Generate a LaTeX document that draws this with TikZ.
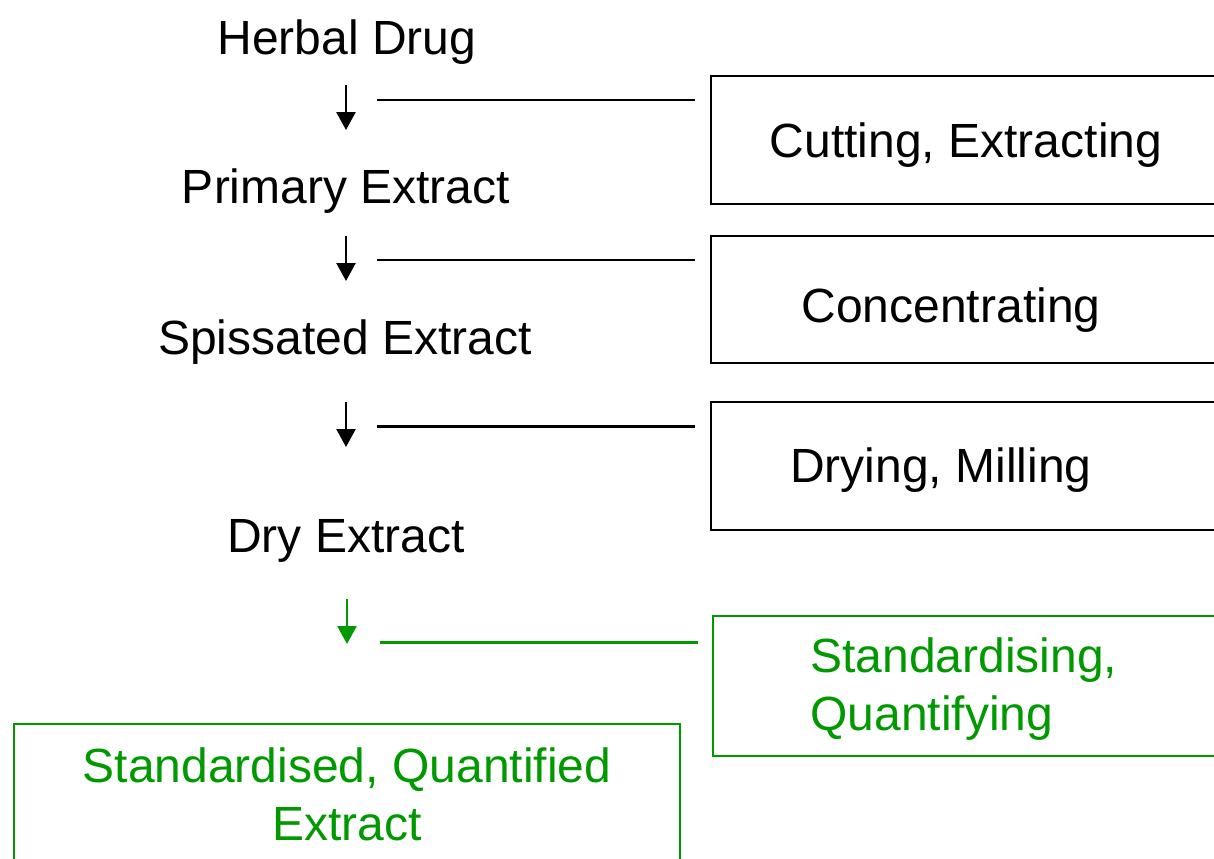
\documentclass[tikz,border=0pt]{standalone}
\usepackage{fontspec}
\setmainfont{Liberation Sans}
\usetikzlibrary{arrows.meta,positioning}
\definecolor{stdgreen}{RGB}{0,153,0}
\begin{document}
\begin{tikzpicture}[x=0.5pt,y=-0.5pt,
  stage/.style={font=\fontsize{24}{29}\selectfont,inner sep=0pt,anchor=base},
  flowarrow/.style={line width=1.2pt,-{Triangle[length=9pt,width=9.5pt]}},
  linkline/.style={line width=1.1pt},
  procbox/.style={line width=1.1pt}]
\useasboundingbox (0,0) rectangle (1214,858);
\clip (0,0) rectangle (1214,858);
% products
\node [stage] (herbal) at (347,54) {Herbal Drug};
\node [stage] (primary) at (346,203) {Primary Extract};
\node [stage] (spiss) at (345,354) {Spissated Extract};
\node [stage] (dry) at (346,552) {Dry Extract};
\node [stage,stdgreen,align=center] (final) at (347,840) {Standardised, Quantified\\Extract};
% processes
\draw [procbox] (711,76) rectangle (1230,204);
\node [stage] (cut) at (966,157) {Cutting, Extracting};
\draw [procbox] (711,236) rectangle (1230,363);
\node [stage] (conc) at (951,322) {Concentrating};
\draw [procbox] (711,402) rectangle (1230,530);
\node [stage] (drying) at (941,482) {Drying, Milling};
\draw [procbox,stdgreen] (713,616) rectangle (1230,756);
\node [stage,stdgreen,align=left,anchor=base west] (stdz) at (810,730) {Standardising,\\Quantifying};
\draw [procbox,stdgreen] (14,724) rectangle (680,900);
% arrows and links
\coordinate (a1) at (346,85);  \coordinate (b1) at (346,130);
\coordinate (a2) at (346,236); \coordinate (b2) at (346,281);
\coordinate (a3) at (346,402); \coordinate (b3) at (346,447);
\coordinate (a4) at (347,599); \coordinate (b4) at (347,644);
\coordinate (l1) at (377,100); \coordinate (r1) at (695,100);
\coordinate (l2) at (377,260); \coordinate (r2) at (695,260);
\coordinate (l3) at (377,426); \coordinate (r3) at (695,426);
\coordinate (l4) at (380,642); \coordinate (r4) at (698,642);
\draw [flowarrow] (a1) -- (b1);
\draw [flowarrow] (a2) -- (b2);
\draw [flowarrow] (a3) -- (b3);
\draw [flowarrow,stdgreen] (a4) -- (b4);
\draw [linkline] (l1) -- (r1);
\draw [linkline] (l2) -- (r2);
\draw [linkline,line width=1.5pt] (l3) -- (r3);
\draw [linkline,line width=1.5pt,stdgreen] (l4) -- (r4);
\end{tikzpicture}
\end{document}
